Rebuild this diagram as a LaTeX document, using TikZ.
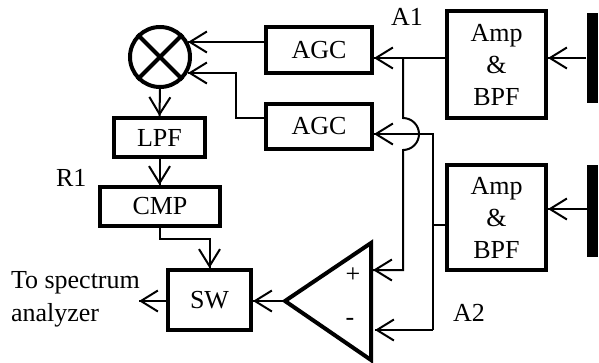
\documentclass[tikz,border=0pt]{standalone}
\usepackage{fontspec}
\setmainfont{Liberation Serif}
\tikzset{->/.style = {decoration={markings, mark=at position 1 with {\arrow[line width=2pt]{Straight Barb[length=17pt,width=21pt]}}}, postaction={decorate}}}
\tikzset{blk/.style = {draw, line width=4pt, rectangle, inner sep=0pt, align=center, font=\fontsize{26}{32}\selectfont}}
\tikzset{lbl/.style = {inner sep=0pt, align=left, font=\fontsize{26}{32}\selectfont}}
\tikzset{bar/.style = {fill=black, rectangle, inner sep=0pt, minimum width=11pt}}
\usetikzlibrary{arrows.meta,
                 decorations.markings}

\begin{document}
\begin{tikzpicture}[x=1pt, y=-1pt, line width=2pt]
      \useasboundingbox (0,0) rectangle (599,362);
      \node [blk, minimum width=106pt, minimum height=46pt] (agc1) at (319,50) {AGC};
      \node [blk, minimum width=106pt, minimum height=45pt] (agc2) at (319,126.5) {AGC};
      \node [blk, minimum width=91pt, minimum height=39pt] (lpf) at (159.5,137.5) {LPF};
      \node [blk, minimum width=120pt, minimum height=39pt] (cmp) at (160,206.5) {CMP};
      \node [blk, minimum width=83pt, minimum height=60pt] (sw) at (209.5,300) {SW};
      \node [blk, minimum width=99pt, minimum height=107pt] (amp1) at (496.5,64.5) {Amp\\\&\\BPF};
      \node [blk, minimum width=99pt, minimum height=105pt] (amp2) at (496.5,217.5) {Amp\\\&\\BPF};
      \node [bar, minimum height=90pt] (ant1) at (592.5,58) {};
      \node [bar, minimum height=92pt] (ant2) at (592.5,211) {};
      \node [draw, circle, line width=4pt, inner sep=0pt, minimum size=60pt] (mix) at (160,57) {};
      \draw [line width=4pt] (mix.45) -- (mix.225);
      \draw [line width=4pt] (mix.135) -- (mix.315);
      % differential amplifier
      \coordinate (apex) at (285,301);
      \coordinate (top) at (371,243);
      \coordinate (bot) at (371,360);
      \draw [line width=4pt, miter limit=10] (apex) -- (top) -- (bot) -- cycle;
      \coordinate (plus) at (373,270);
      \coordinate (minus) at (375,330);
      \node [lbl] (pl) at (353,275) {+};
      \node [lbl] (mi) at (350,322) {-};
      \coordinate (a1) at (403,58);
      \coordinate (a2) at (433,134);
      \coordinate (rx2) at (587,209);
      \coordinate (in1) at (188,42);
      \coordinate (in2) at (188,73);
      \coordinate (bendl) at (236,118);
      \coordinate (cmpd) at (160,239);
      \coordinate (out) at (139,301);
      \draw [->] (ant1.west) -- (amp1.east |- ant1.west);
      \draw [->] (rx2) -- (rx2 -| amp2.east);
      \draw [->] (a1 -| amp1.west) -- (a1 -| agc1.east);
      \draw [->] (a1) -- (403,118) arc [start angle=90, end angle=-90, radius=16pt] -- (403,270) -- (plus);
      \draw [->] (a2 |- minus) -- (a2) -- (a2 -| agc2.east);
      \draw [->] (a2 |- minus) -- (minus);
      \draw (amp2.west) ++(0,7.5) -- (433,225);
      \draw [->] (in1 -| agc1.west) -- (in1);
      \draw [->] (bendl -| agc2.west) -- (bendl) -- (bendl |- in2) -- (in2);
      \draw [->] (mix.south) -- (lpf.north);
      \draw [->] (lpf.south) -- (lpf.south |- cmp.north);
      \draw [->] (cmp.south -| cmpd) -- (cmpd) -- (sw.north |- cmpd) -- (sw.north);
      \draw [->] (apex) -- (apex -| sw.east);
      \draw [->] (out -| sw.west) -- (out);
      \node [lbl, anchor=west] (a1l) at (390,17) {A1};
      \node [lbl, anchor=west] (a2l) at (452,313) {A2};
      \node [lbl, anchor=west] (r1) at (55,178) {R1};
      \node [lbl, anchor=west] (to) at (10,283) {To spectrum};
      \node [lbl, anchor=west] (an) at (10,315) {analyzer};
    \end{tikzpicture}
\end{document}
